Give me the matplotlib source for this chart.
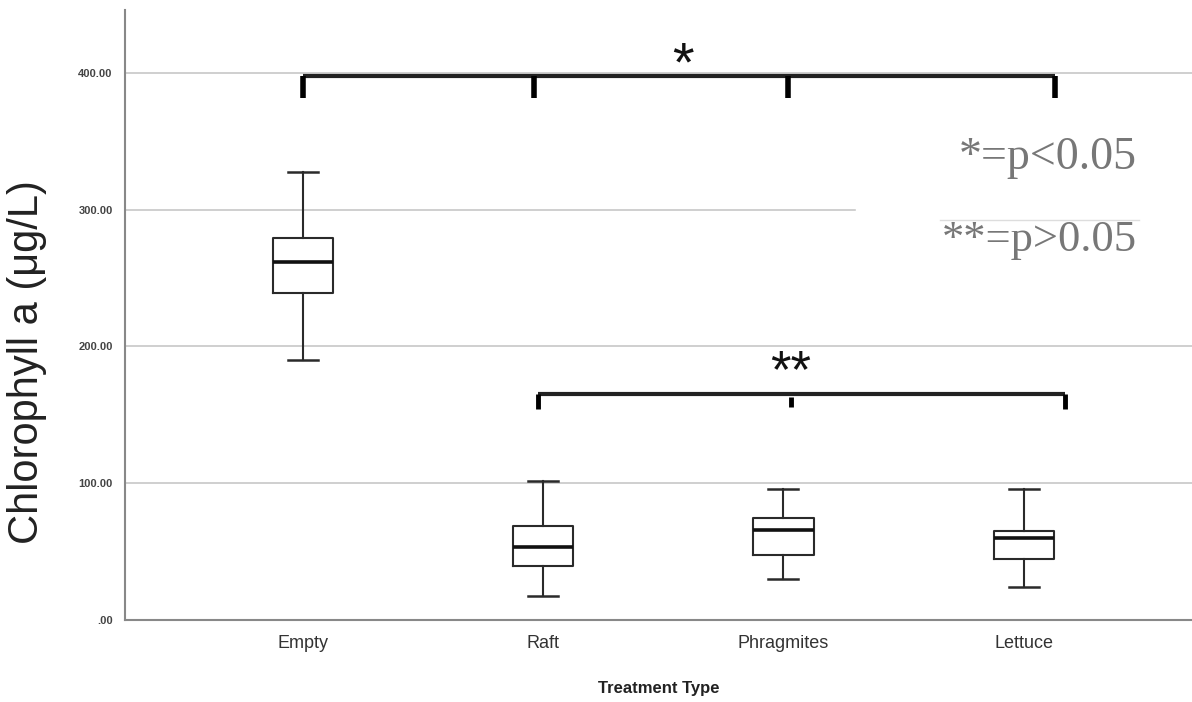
import numpy as np
import matplotlib.pyplot as plt

# box statistics
groups = ['Empty', 'Raft', 'Phragmites', 'Lettuce']
whis_low = [190.4, 17.6, 29.9, 23.8]
q1 = [238.8, 39.2, 47.3, 44.6]
medians = [262.0, 53.4, 65.7, 59.6]
q3 = [279.6, 68.6, 74.5, 65.4]
whis_high = [327.7, 101.5, 95.6, 95.6]

y_ticks = [0, 100, 200, 300, 400]
y_ticklabels = ['.00', '100.00', '200.00', '300.00', '400.00']

# significance brackets (hand drawn in the original)
top_bracket_x = [0.0, 0.96, 2.02, 3.13]
top_bracket_y = 398
low_bracket_x = [0.98, 2.03, 3.17]
low_bracket_y = 165

fig = plt.figure(figsize=(11.92, 7.02), dpi=100)
ax = fig.add_axes([0.1049, 0.1168, 0.8951, 0.869])

stats = []
for i, g in enumerate(groups):
    stats.append({'label': g, 'whislo': whis_low[i], 'q1': q1[i], 'med': medians[i],
                  'q3': q3[i], 'whishi': whis_high[i], 'fliers': []})

ax.bxp(stats, positions=range(len(groups)), widths=0.25, showfliers=False,
       boxprops=dict(color='#2a2a2a', linewidth=1.5),
       whiskerprops=dict(color='#2a2a2a', linewidth=1.5),
       capprops=dict(color='#2a2a2a', linewidth=1.8),
       medianprops=dict(color='#111111', linewidth=2.6), zorder=3)

ax.set_xlim(-0.74, 3.70)
ax.set_ylim(0, 446)
ax.set_yticks(y_ticks)
ax.set_yticklabels(y_ticklabels, fontsize=8, color='#444444', fontweight='bold',
                   family='Liberation Sans')
ax.set_xticks(range(len(groups)))
ax.set_xticklabels(groups, fontsize=13, color='#333333', family='Liberation Sans')
ax.tick_params(axis='both', length=0, pad=9)
ax.tick_params(axis='x', pad=11)
ax.grid(axis='y', color='#cccccc', linewidth=1.3, zorder=0)
ax.set_axisbelow(True)
for s in ['top', 'right']:
    ax.spines[s].set_visible(False)
for s in ['left', 'bottom']:
    ax.spines[s].set_color('#888888')
    ax.spines[s].set_linewidth(1.5)

ax.set_ylabel('Chlorophyll a (\u03bcg/L)', fontsize=30, color='#222222',
              family='Liberation Sans')
ax.yaxis.set_label_coords(-0.073, 0.423)
ax.set_xlabel('Treatment Type', fontsize=12, fontweight='bold', color='#222222',
              family='Liberation Sans', labelpad=21)

# white patch of the pasted legend box covering grid lines
ax.fill_between([2.3, 3.70], 294, 373, color='white', zorder=1)
ax.plot([2.65, 3.48], [292.5, 292.5], color='#dddddd', linewidth=1, zorder=1)

# top bracket
ax.plot([top_bracket_x[0], top_bracket_x[-1]], [top_bracket_y, top_bracket_y],
        color='#222222', linewidth=3, solid_capstyle='butt', zorder=4)
for bx in top_bracket_x:
    ax.plot([bx, bx], [top_bracket_y, top_bracket_y - 16], color='black',
            linewidth=4, solid_capstyle='butt', zorder=4)
ax.text(1.58, 386, '*', fontsize=40, ha='center', va='bottom', color='#111111',
        family='Liberation Sans')

# lower bracket
ax.plot([low_bracket_x[0], low_bracket_x[-1]], [low_bracket_y, low_bracket_y],
        color='#222222', linewidth=3, solid_capstyle='butt', zorder=4)
for bx in [low_bracket_x[0], low_bracket_x[-1]]:
    ax.plot([bx, bx], [low_bracket_y, low_bracket_y - 11], color='black',
            linewidth=3.5, solid_capstyle='butt', zorder=4)
ax.plot([low_bracket_x[1], low_bracket_x[1]], [low_bracket_y - 2, low_bracket_y - 9],
        color='black', linewidth=3.5, solid_capstyle='butt', zorder=4)
ax.text(2.03, 162, '**', fontsize=38, ha='center', va='bottom', color='#111111',
        family='Liberation Sans')

# p-value key
ax.text(3.47, 338, '*=p<0.05', fontsize=33, ha='right', va='center', color='#777777',
        family='Liberation Serif')
ax.text(3.47, 278, '**=p>0.05', fontsize=32, ha='right', va='center', color='#777777',
        family='Liberation Serif')

fig.savefig('out.png', dpi=100)
